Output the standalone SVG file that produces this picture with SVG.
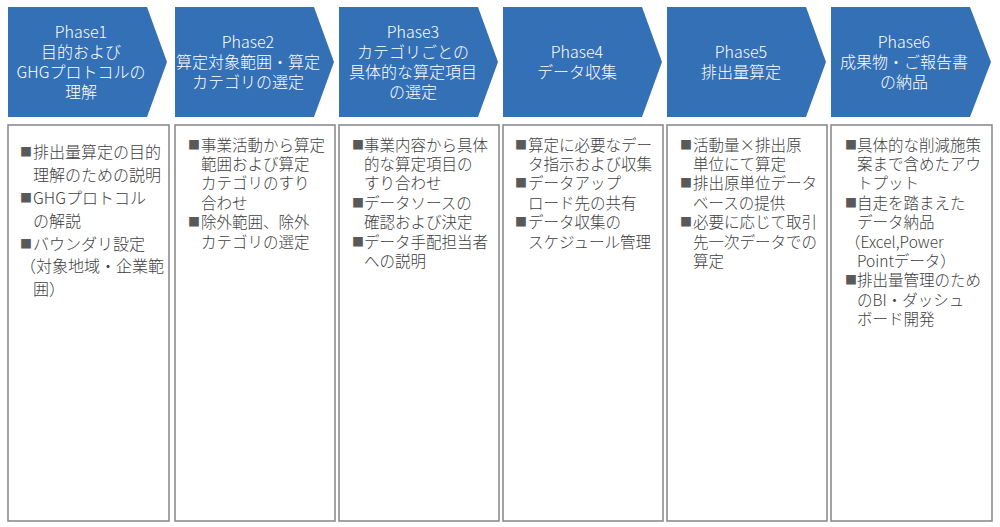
<svg xmlns="http://www.w3.org/2000/svg" width="1000" height="527" viewBox="0 0 1000 527">
<style>
.chev{fill:#3470b5;}
.ht{font-family:"Noto Sans CJK JP","Noto Sans",sans-serif;font-size:16px;font-weight:300;fill:#ffffff;text-anchor:middle;}
.box{fill:#ffffff;stroke:#8c8c8c;stroke-width:1.6;}
.bt{font-family:"Noto Sans CJK JP","Noto Sans",sans-serif;font-size:15.5px;font-weight:300;fill:#404040;}
.bt1{font-family:"Noto Sans CJK JP","Noto Sans",sans-serif;font-size:16px;font-weight:300;fill:#404040;}
.bl{font-family:"Noto Sans CJK JP","Noto Sans",sans-serif;font-size:12px;fill:#595959;}
</style>
<rect width="1000" height="527" fill="#ffffff"/>
<g id="connectors"></g>

<g id="phase1">
<polygon class="chev" points="8,7 147,7 167,62 147,117 8,117"/>
<text class="ht" x="81"><tspan x="81" y="37.5">Phase1</tspan><tspan x="81" y="57.5">目的および</tspan><tspan x="81" y="77.5">GHGプロトコルの</tspan><tspan x="81" y="97.5">理解</tspan></text>
<rect class="box" x="8" y="125" width="161" height="396"/>
<text class="bl" x="20" y="157">■</text><text class="bt1" x="33" y="158">排出量算定の目的</text>
<text class="bt1" x="33" y="181">理解のための説明</text>
<text class="bl" x="20" y="203">■</text><text class="bt1" x="33" y="204">GHGプロトコル</text>
<text class="bt1" x="33" y="227">の解説</text>
<text class="bl" x="20" y="249">■</text><text class="bt1" x="33" y="250">バウンダリ設定</text>
<text class="bt1" x="20" y="272">（対象地域・企業範</text>
<text class="bt1" x="33" y="295">囲）</text>
</g>

<g id="phase2">
<polygon class="chev" points="175,7 314,7 334,62 314,117 175,117"/>
<text class="ht" x="248"><tspan x="248" y="47.5">Phase2</tspan><tspan x="248" y="67.5">算定対象範囲・算定</tspan><tspan x="248" y="87.5">カテゴリの選定</tspan></text>
<rect class="box" x="175" y="125" width="160" height="396"/>
<text class="bl" x="188" y="149.5">■</text><text class="bt" x="201" y="150.5">事業活動から算定</text>
<text class="bt" x="201" y="170">範囲および算定</text>
<text class="bt" x="201" y="189.3">カテゴリのすり</text>
<text class="bt" x="201" y="208.7">合わせ</text>
<text class="bl" x="188" y="227">■</text><text class="bt" x="201" y="228">除外範囲、除外</text>
<text class="bt" x="201" y="247.5">カテゴリの選定</text>
</g>

<g id="phase3">
<polygon class="chev" points="339,7 478,7 498,62 478,117 339,117"/>
<text class="ht" x="413"><tspan x="413" y="37.5">Phase3</tspan><tspan x="413" y="57.5">カテゴリごとの</tspan><tspan x="413" y="77.5">具体的な算定項目</tspan><tspan x="413" y="97.5">の選定</tspan></text>
<rect class="box" x="339" y="125" width="160" height="396"/>
<text class="bl" x="352" y="149.5">■</text><text class="bt" x="364" y="150.5">事業内容から具体</text>
<text class="bt" x="364" y="170">的な算定項目の</text>
<text class="bt" x="364" y="189.3">すり合わせ</text>
<text class="bl" x="352" y="207.7">■</text><text class="bt" x="364" y="208.7">データソースの</text>
<text class="bt" x="364" y="228">確認および決定</text>
<text class="bl" x="352" y="246.5">■</text><text class="bt" x="364" y="247.5">データ手配担当者</text>
<text class="bt" x="364" y="267">への説明</text>
</g>

<g id="phase4">
<polygon class="chev" points="503,7 642,7 662,62 642,117 503,117"/>
<text class="ht" x="577"><tspan x="577" y="57.5">Phase4</tspan><tspan x="577" y="77.5">データ収集</tspan></text>
<rect class="box" x="503" y="125" width="160" height="396"/>
<text class="bl" x="515" y="149.5">■</text><text class="bt" x="528" y="150.5">算定に必要なデー</text>
<text class="bt" x="528" y="170">タ指示および収集</text>
<text class="bl" x="515" y="188.3">■</text><text class="bt" x="528" y="189.3">データアップ</text>
<text class="bt" x="528" y="208.7">ロード先の共有</text>
<text class="bl" x="515" y="227">■</text><text class="bt" x="528" y="228">データ収集の</text>
<text class="bt" x="528" y="247.5">スケジュール管理</text>
</g>

<g id="phase5">
<polygon class="chev" points="667,7 806,7 826,62 806,117 667,117"/>
<text class="ht" x="741"><tspan x="741" y="57.5">Phase5</tspan><tspan x="741" y="77.5">排出量算定</tspan></text>
<rect class="box" x="667" y="125" width="160" height="396"/>
<text class="bl" x="680" y="149.5">■</text><text class="bt" x="693" y="150.5">活動量×排出原</text>
<text class="bt" x="693" y="170">単位にて算定</text>
<text class="bl" x="680" y="188.3">■</text><text class="bt" x="693" y="189.3">排出原単位データ</text>
<text class="bt" x="693" y="208.7">ベースの提供</text>
<text class="bl" x="680" y="227">■</text><text class="bt" x="693" y="228">必要に応じて取引</text>
<text class="bt" x="693" y="247.5">先一次データでの</text>
<text class="bt" x="693" y="267">算定</text>
</g>

<g id="phase6">
<polygon class="chev" points="831,7 970,7 991,62 970,117 831,117"/>
<text class="ht" x="904"><tspan x="904" y="47.5">Phase6</tspan><tspan x="904" y="67.5">成果物・ご報告書</tspan><tspan x="904" y="87.5">の納品</tspan></text>
<rect class="box" x="831" y="125" width="161" height="396"/>
<text class="bl" x="845" y="149.5">■</text><text class="bt" x="857" y="150.5">具体的な削減施策</text>
<text class="bt" x="857" y="170">案まで含めたアウ</text>
<text class="bt" x="857" y="189.3">トプット</text>
<text class="bl" x="845" y="207.7">■</text><text class="bt" x="857" y="208.7">自走を踏まえた</text>
<text class="bt" x="857" y="228">データ納品</text>
<text class="bt" x="845" y="247.5">（Excel,Power</text>
<text class="bt" x="857" y="267">Pointデータ）</text>
<text class="bl" x="845" y="285.3">■</text><text class="bt" x="857" y="286.3">排出量管理のため</text>
<text class="bt" x="857" y="305.7">のBI・ダッシュ</text>
<text class="bt" x="857" y="325">ボード開発</text>
</g>
</svg>
